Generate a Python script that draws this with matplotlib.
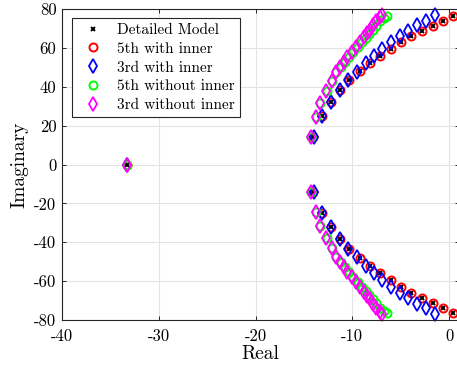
import matplotlib
matplotlib.use("Agg")
import matplotlib.pyplot as plt
import numpy as np

plt.rcParams['font.family'] = 'cmr10'
plt.rcParams['mathtext.fontset'] = 'cm'
plt.rcParams['axes.unicode_minus'] = False
plt.rcParams['axes.formatter.use_mathtext'] = False

# upper-branch poles (the lower branch is the complex conjugate)
real_pole = -33.3

det_re = [0.4, -0.6, -1.7, -2.8, -3.9, -5.0, -6.0, -7.1, -8.2, -9.2, -10.3, -11.25, -12.2, -13.1, -14.1]
det_im = [76.5, 74.0, 71.2, 68.8, 66.3, 63.2, 59.6, 55.8, 52.0, 48.3, 43.5, 38.3, 32.3, 25.0, 14.3]

fifth_in_re = [0.4, -0.6, -1.7, -2.8, -3.9, -5.0, -6.0, -7.1, -8.2, -9.2, -10.3, -11.25, -12.2, -13.1, -14.1]
fifth_in_im = [76.5, 74.0, 71.2, 68.8, 66.3, 63.2, 59.6, 55.8, 52.0, 48.3, 43.5, 38.3, 32.3, 25.0, 14.3]

third_in_re = [-1.5, -2.4, -3.3, -4.2, -5.1, -6.0, -6.9, -7.8, -8.6, -9.5, -10.4, -11.25, -12.2, -13.1, -14.0]
third_in_im = [76.9, 74.0, 71.8, 68.8, 66.1, 63.0, 59.2, 55.8, 52.4, 47.7, 43.5, 38.3, 32.3, 25.0, 14.3]

fifth_out_re = [-6.45, -6.75, -7.1, -7.5, -7.9, -8.25, -8.6, -9.0, -9.45, -9.9, -10.35, -10.8, -11.2, -11.65, -12.1, -12.65, -13.3, -13.8, -14.3]
fifth_out_im = [76.5, 75.3, 73.6, 71.5, 69.0, 67.3, 65.2, 63.0, 60.5, 58.0, 55.5, 52.9, 50.3, 47.7, 43.0, 38.0, 31.5, 24.6, 14.3]

third_out_re = [-6.9, -7.15, -7.5, -7.85, -8.2, -8.5, -8.8, -9.2, -9.6, -10.0, -10.5, -10.9, -11.3, -11.7, -12.1, -12.7, -13.3, -13.8, -14.3]
third_out_im = [76.9, 75.7, 74.0, 71.8, 69.2, 67.5, 65.4, 63.2, 60.6, 58.0, 55.5, 52.9, 50.3, 47.7, 43.0, 38.0, 31.5, 24.6, 14.3]

labels = ['Detailed Model', '5th with inner', '3rd with inner', '5th without inner', '3rd without inner']


def full(re, im):
    r = np.array(re); i = np.array(im)
    return (np.concatenate([[real_pole], r, r]),
            np.concatenate([[0.0], i, -i]))


fig = plt.figure(figsize=(4.57, 3.71), dpi=100)
ax = fig.add_axes([62/457, 51/371, (458.7-62)/457, 311/371])

series = [
    (det_re, det_im, dict(marker='x', color='k', ms=3.2, mew=1.4)),
    (fifth_in_re, fifth_in_im, dict(marker='o', color='#ff0000', ms=5.8, mew=1.4, mfc='none')),
    (third_in_re, third_in_im, dict(marker='d', color='#0000ff', ms=7.4, mew=1.3, mfc='none')),
    (fifth_out_re, fifth_out_im, dict(marker='o', color='#00ff00', ms=5.8, mew=1.4, mfc='none')),
    (third_out_re, third_out_im, dict(marker='d', color='#ff00ff', ms=7.4, mew=1.3, mfc='none')),
]
for (re, im, st), lab in zip(series, labels):
    x, y = full(re, im)
    ax.plot(x, y, linestyle='none', label=lab, clip_on=False, **st)

ax.set_xlim(-40, 1)
ax.set_ylim(-80, 80)
ax.set_xticks([-40, -30, -20, -10, 0])
ax.set_yticks([-80, -60, -40, -20, 0, 20, 40, 60, 80])
ax.grid(True, color='#e3e3e3', linewidth=0.8)
ax.set_axisbelow(True)
ax.tick_params(direction='in', top=True, right=True, labelsize=12, length=3, width=0.7, color='#262626')
ax.tick_params(axis='x', pad=6)
ax.tick_params(axis='y', pad=4)
for s in ax.spines.values():
    s.set_linewidth(0.8)
    s.set_color('#262626')
ax.set_xlabel('Real', fontsize=14, labelpad=1)
ax.set_ylabel('Imaginary', fontsize=14, labelpad=4)

leg = ax.legend(loc='upper left', bbox_to_anchor=(0.025, 0.971), borderaxespad=0, fontsize=11, frameon=True,
                fancybox=False, edgecolor='#262626', framealpha=1, handlelength=2.0,
                handletextpad=0.6, labelspacing=0.33, borderpad=0.35, numpoints=1)
leg.get_frame().set_linewidth(0.8)

fig.savefig('out.png', dpi=100)
